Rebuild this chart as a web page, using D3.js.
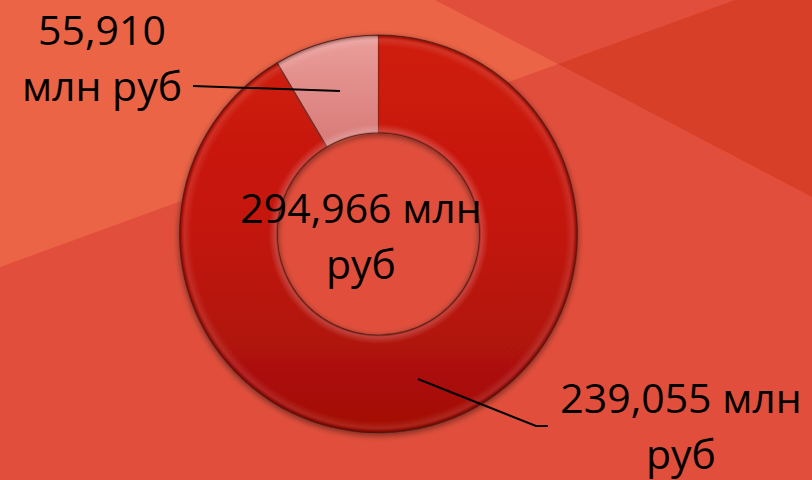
<!DOCTYPE html>
<html>
<head>
<meta charset="utf-8">
<script src="https://cdn.jsdelivr.net/npm/d3@7"></script>
<style>
  html, body { margin: 0; padding: 0; background: #e14f3c; }
  svg { display: block; }
  text { font-family: "Open Sans", "Noto Sans", sans-serif; fill: #000; }
</style>
</head>
<body>
<svg id="chart" width="812" height="480"></svg>
<script>
// ---- data ----
const categories   = ["Часть 1", "Часть 2"];
const valueLabels  = ["239,055", "55,910"];      // slice labels, млн руб
const totalLabel   = "294,966";                  // centre label, млн руб
const unitLabel    = ["млн", "руб"];
const sliceShares  = [91.5, 8.5];                // share of the ring as drawn, %

// ---- layout ----
const W = 812, H = 480;
const cx = 378.5, cy = 234, R = 199, r0 = 101;

const svg = d3.select("#chart");
const defs = svg.append("defs");

// background facets
svg.append("rect").attr("width", W).attr("height", H).attr("fill", "#e14f3c");
svg.append("polygon").attr("points", "0,0 435,0 558,64 0,267").attr("fill", "#ec6446");
svg.append("polygon").attr("points", "558,64 735,0 812,0 812,197").attr("fill", "#d73f29");

// gradients (in the donut group's coordinate space, centred at 0,0)
const gRed = defs.append("linearGradient").attr("id", "gRed")
  .attr("gradientUnits", "userSpaceOnUse")
  .attr("x1", 0).attr("y1", -R).attr("x2", 0).attr("y2", R);
[["0", "#cf1b09"], ["0.45", "#c5180a"], ["1", "#a20e06"]].forEach(([o, c]) =>
  gRed.append("stop").attr("offset", o).attr("stop-color", c));

const gPink = defs.append("linearGradient").attr("id", "gPink")
  .attr("gradientUnits", "userSpaceOnUse")
  .attr("x1", 0).attr("y1", -R).attr("x2", 0).attr("y2", -r0);
[["0", "#eb9e9b"], ["1", "#d97e7b"]].forEach(([o, c]) =>
  gPink.append("stop").attr("offset", o).attr("stop-color", c));

const gBevel = defs.append("radialGradient").attr("id", "gBevel")
  .attr("gradientUnits", "userSpaceOnUse")
  .attr("cx", 0).attr("cy", 0).attr("r", R).attr("fx", 0).attr("fy", 0);
[
  [r0 / R,        "#000", 0.35],
  [(r0 + 2) / R,  "#fff", 0.18],
  [(r0 + 9) / R,  "#fff", 0.0],
  [(R - 12) / R,  "#fff", 0.0],
  [(R - 5) / R,   "#fff", 0.10],
  [(R - 2) / R,   "#000", 0.15],
  [1,             "#000", 0.45]
].forEach(([o, c, a]) => gBevel.append("stop").attr("offset", o)
  .attr("stop-color", c).attr("stop-opacity", a));

const shadow = defs.append("filter").attr("id", "shadow")
  .attr("x", "-10%").attr("y", "-10%").attr("width", "120%").attr("height", "120%");
shadow.append("feGaussianBlur").attr("in", "SourceAlpha").attr("stdDeviation", 3).attr("result", "b");
shadow.append("feOffset").attr("in", "b").attr("dx", 0).attr("dy", 2).attr("result", "o");
shadow.append("feComponentTransfer").attr("in", "o").attr("result", "s")
  .append("feFuncA").attr("type", "linear").attr("slope", 0.45);
const fm = shadow.append("feMerge");
fm.append("feMergeNode").attr("in", "s");
fm.append("feMergeNode").attr("in", "SourceGraphic");

// ---- donut ----
const pie = d3.pie().sort(null).value(d => d.share);
const arcs = pie(categories.map((c, i) => ({ cat: c, share: sliceShares[i] })));
const arc = d3.arc().innerRadius(r0).outerRadius(R);
const fills = ["url(#gRed)", "url(#gPink)"];

const g = svg.append("g").attr("transform", `translate(${cx},${cy})`);
g.append("g").attr("filter", "url(#shadow)")
  .selectAll("path").data(arcs).join("path")
  .attr("d", arc).attr("fill", (d, i) => fills[i])
  .attr("stroke", "#7a2a22").attr("stroke-width", 1.2);
g.append("g").selectAll("path").data(arcs).join("path")
  .attr("d", arc).attr("fill", "url(#gBevel)");

// ---- leader lines ----
svg.append("polyline").attr("points", "193,86 340,91")
  .attr("fill", "none").attr("stroke", "#000").attr("stroke-width", 2);
svg.append("polyline").attr("points", "418,379 536,426 548,426")
  .attr("fill", "none").attr("stroke", "#000").attr("stroke-width", 2);

// ---- labels ----
const fs = 41;
function label(x, y, lines) {
  const t = svg.append("text").attr("text-anchor", "middle")
    .attr("font-size", fs).attr("x", x).attr("y", y);
  lines.forEach((s, i) => t.append("tspan").attr("x", x)
    .attr("dy", i === 0 ? 0 : 56).text(s));
}
label(102, 45, [valueLabels[1], unitLabel.join(" ")]);
label(681, 413, [valueLabels[0] + " " + unitLabel[0], unitLabel[1]]);
label(361, 223, [totalLabel + " " + unitLabel[0], unitLabel[1]]);
</script>
</body>
</html>
